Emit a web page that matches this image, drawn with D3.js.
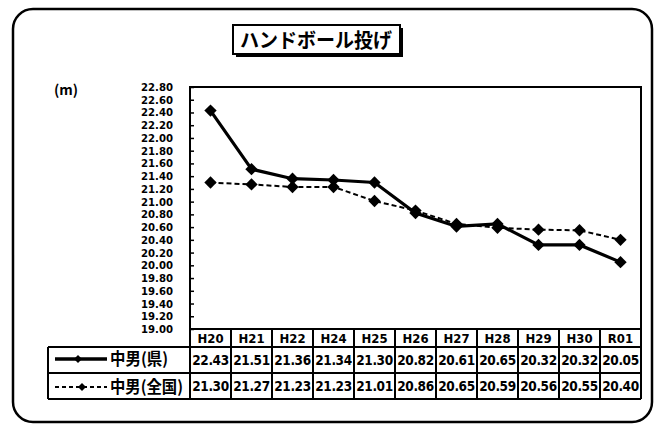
<!DOCTYPE html>
<html><head><meta charset="utf-8">
<script src="https://cdn.jsdelivr.net/npm/d3@7"></script>
<style>
body{margin:0;background:#fff;}
svg{display:block;}
.cond{font-family:"Liberation Sans Narrow","Arial Narrow","DejaVu Sans Condensed",sans-serif;font-weight:bold;}
.jp{font-family:"Noto Sans CJK JP",sans-serif;font-weight:bold;}
</style></head>
<body><svg id="c" width="660" height="427"></svg>
<script>
const title = "ハンドボール投げ";
const unit = "(m)";
const categories = ["H20","H21","H22","H24","H25","H26","H27","H28","H29","H30","R01"];
const seriesNames = ["中男(県)","中男(全国)"];
const prefValues = [22.43,21.51,21.36,21.34,21.30,20.82,20.61,20.65,20.32,20.32,20.05];
const natValues  = [21.30,21.27,21.23,21.23,21.01,20.86,20.65,20.59,20.56,20.55,20.40];
const yTicks = [19.00,19.20,19.40,19.60,19.80,20.00,20.20,20.40,20.60,20.80,21.00,21.20,21.40,21.60,21.80,22.00,22.20,22.40,22.60,22.80];

const svg = d3.select("#c");
const L = 190, R = 641, T = 87, B = 329;
const x = d3.scaleBand().domain(categories).range([L, R]);
const y = d3.scaleLinear().domain([19, 22.8]).range([B, T]);

// outer rounded frame
svg.append("rect").attr("x",13).attr("y",9).attr("width",639).attr("height",413)
  .attr("rx",20).attr("fill","none").attr("stroke","#000").attr("stroke-width",2.5);

// title box with shadow
svg.append("rect").attr("x",236).attr("y",28).attr("width",167).attr("height",29).attr("fill","#000");
svg.append("rect").attr("x",233).attr("y",25).attr("width",167).attr("height",29)
  .attr("fill","#fff").attr("stroke","#000").attr("stroke-width",2);
svg.append("text").attr("class","jp").attr("x",240).attr("y",47.5)
  .attr("font-size",20).attr("textLength",152).attr("lengthAdjust","spacingAndGlyphs").text(title);

// unit
svg.append("text").attr("class","jp").attr("x",54).attr("y",95).attr("font-size",14).text(unit);

// y axis labels
svg.append("g").selectAll("text").data(yTicks).join("text")
  .attr("class","cond").attr("x",173).attr("y",d=>y(d)+4).attr("text-anchor","end")
  .attr("font-size",11).attr("textLength",32).attr("lengthAdjust","spacingAndGlyphs").text(d=>d.toFixed(2));

// y ticks (inside)
const yAxis = d3.axisRight(y).tickValues(yTicks).tickSize(4).tickFormat("");
const ga = svg.append("g").attr("transform",`translate(${L},0)`).call(yAxis);
ga.select(".domain").remove();
ga.selectAll("line").attr("stroke","#000").attr("stroke-width",1.5);

// plot frame
svg.append("rect").attr("x",L).attr("y",T).attr("width",R-L).attr("height",B-T)
  .attr("fill","none").attr("stroke","#000").attr("stroke-width",2);

const cx = d => x(d) + x.bandwidth()/2;
const line = d3.line().x(d=>cx(d.c)).y(d=>y(d.v));
const natData = categories.map((c,i)=>({c,v:natValues[i]}));
const prefData = categories.map((c,i)=>({c,v:prefValues[i]}));

svg.append("path").datum(natData).attr("d",line).attr("fill","none")
  .attr("stroke","#000").attr("stroke-width",2).attr("stroke-dasharray","5,3");
svg.append("path").datum(prefData).attr("d",line).attr("fill","none")
  .attr("stroke","#000").attr("stroke-width",3.2);

[natData, prefData].forEach(ds=>{
  svg.append("g").selectAll("path").data(ds).join("path")
    .attr("d", d3.symbol().type(d3.symbolSquare).size(76))
    .attr("transform",d=>`translate(${cx(d.c)},${y(d.v)}) rotate(45)`).attr("fill","#000");
});

// table
const rowY = [B, 347, 373, 399];
const tg = svg.append("g");
[1,2,3].forEach(i=>{
  tg.append("line").attr("x1",48).attr("x2",R).attr("y1",rowY[i]).attr("y2",rowY[i]).attr("stroke","#000").attr("stroke-width",2);
});
tg.append("line").attr("x1",48).attr("x2",48).attr("y1",rowY[1]).attr("y2",rowY[3]).attr("stroke","#000").attr("stroke-width",2);
const edges = categories.map(c=>x(c)).concat([R]);
tg.selectAll("line.v").data(edges).join("line").attr("class","v")
  .attr("x1",d=>d).attr("x2",d=>d).attr("y1",B).attr("y2",rowY[3]).attr("stroke","#000").attr("stroke-width",2);

tg.selectAll("text.h").data(categories).join("text").attr("class","cond h")
  .attr("x",cx).attr("y",343).attr("text-anchor","middle").attr("font-size",13).text(d=>d);
tg.selectAll("text.p").data(prefData).join("text").attr("class","cond p")
  .attr("x",d=>cx(d.c)).attr("y",365).attr("text-anchor","middle").attr("font-size",13.5).attr("letter-spacing",-0.4).text(d=>d.v.toFixed(2));
tg.selectAll("text.n").data(natData).join("text").attr("class","cond n")
  .attr("x",d=>cx(d.c)).attr("y",391).attr("text-anchor","middle").attr("font-size",13.5).attr("letter-spacing",-0.4).text(d=>d.v.toFixed(2));

// legend
const legY = [359, 387];
tg.append("line").attr("x1",55).attr("x2",107).attr("y1",legY[0]).attr("y2",legY[0]).attr("stroke","#000").attr("stroke-width",3.5);
tg.append("line").attr("x1",55).attr("x2",107).attr("y1",legY[1]).attr("y2",legY[1]).attr("stroke","#000").attr("stroke-width",2).attr("stroke-dasharray","4,3");
[78,82].forEach((xx,i)=>{
  tg.append("path").attr("d",d3.symbol().type(d3.symbolSquare).size(32)).attr("transform",`translate(${xx},${legY[i]}) rotate(45)`).attr("fill","#000");
});
const legW = [58, 73];
tg.selectAll("text.l").data(seriesNames).join("text").attr("class","jp l")
  .attr("x",110).attr("y",(d,i)=>legY[i]+6).attr("font-size",16.5)
  .attr("textLength",(d,i)=>legW[i]).attr("lengthAdjust","spacingAndGlyphs").text(d=>d);
</script></body></html>
